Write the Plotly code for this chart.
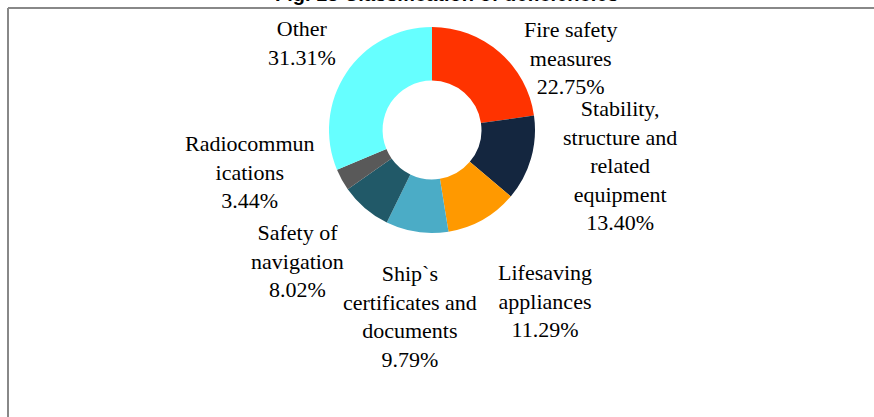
import plotly.graph_objects as go

categories = ["Fire safety measures", "Stability, structure and related equipment",
              "Lifesaving appliances", "Ship`s certificates and documents",
              "Safety of navigation", "Radiocommunications", "Other"]
values = [22.75, 13.40, 11.29, 9.79, 8.02, 3.44, 31.31]
label_lines = [["Fire safety", "measures"],
               ["Stability,", "structure and", "related", "equipment"],
               ["Lifesaving", "appliances"],
               ["Ship`s", "certificates and", "documents"],
               ["Safety of", "navigation"],
               ["Radiocommun", "ications"],
               ["Other"]]
colors = ["#FF3300", "#14263F", "#FF9900", "#4BACC6", "#215968", "#595959", "#66FFFF"]

W, H = 874, 417
# label centres in pixels (layout only)
label_pos = [(570, 58), (620, 165), (545, 301), (410, 316), (297, 261), (250, 172), (302, 43)]

fig = go.Figure(go.Pie(
    labels=categories, values=values, hole=0.48, sort=False, direction="clockwise",
    rotation=0, marker=dict(colors=colors, line=dict(width=0)),
    textinfo="none", hoverinfo="label+percent", showlegend=False,
    domain=dict(x=[(432 - 103) / W, (432 + 103) / W], y=[1 - 233 / H, 1 - 27 / H]),
))

serif = "Liberation Serif, Times New Roman, Times, serif"
for lines, v, (px_, py_) in zip(label_lines, values, label_pos):
    fig.add_annotation(
        text="<br>".join(lines + [f"{v:.2f}%"]),
        x=px_ / W, y=1 - py_ / H, xref="paper", yref="paper",
        xanchor="center", yanchor="middle", showarrow=False,
        font=dict(family=serif, size=22, color="black"),
    )

fig.add_annotation(
    text="<b>Fig. 13 Classification of deficiencies</b>",
    x=446 / W, y=1 - 7 / H, xref="paper", yref="paper",
    xanchor="center", yanchor="bottom", showarrow=False,
    font=dict(family="Liberation Sans, Arial, sans-serif", size=20, color="black"),
)

# frame lines
fig.add_shape(type="line", xref="paper", yref="paper", x0=8 / W, x1=1, y0=1 - 8 / H, y1=1 - 8 / H,
              line=dict(color="#888888", width=2))
fig.add_shape(type="line", xref="paper", yref="paper", x0=8 / W, x1=8 / W, y0=0, y1=1 - 8 / H,
              line=dict(color="#888888", width=2))

fig.update_layout(width=W, height=H, margin=dict(l=0, r=0, t=0, b=0),
                  paper_bgcolor="white", plot_bgcolor="white")
fig.write_html("out.html", config={"displayModeBar": False},
               post_script="document.body.style.margin='0';")
